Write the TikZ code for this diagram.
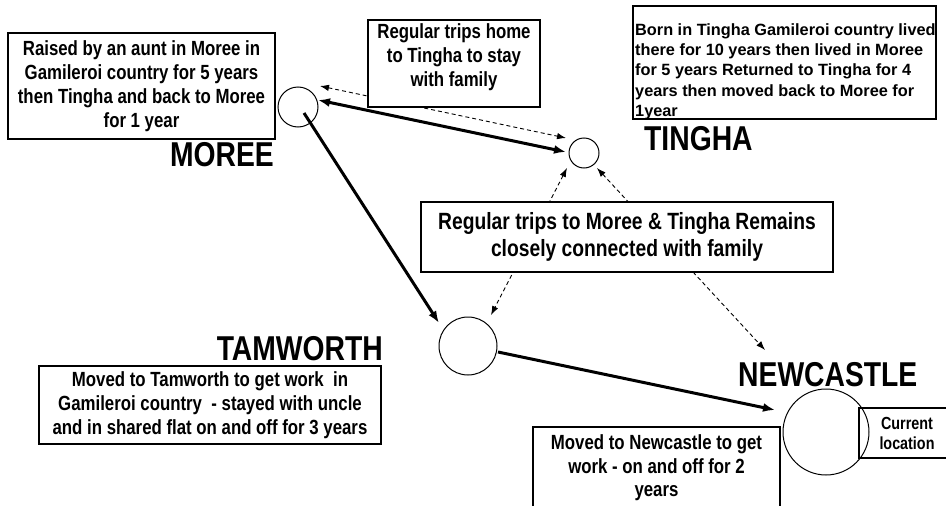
\documentclass[tikz,border=0pt]{standalone}
\usepackage{fontspec}
\setmainfont{Liberation Sans}[FakeStretch=0.82]
\newfontfamily\widefont{Liberation Sans}
\usetikzlibrary{arrows.meta,calc}
\begin{document}
\begin{tikzpicture}[x=1pt,y=-1pt,
  box/.style={draw=black, line width=1.1pt, fill=white, rectangle, inner sep=0pt},
  txt/.style={align=center, font=\bfseries\fontsize{20.5}{24}\selectfont, inner sep=0pt},
  city/.style={font=\bfseries\fontsize{34.5}{40}\selectfont, inner sep=0pt},
  place/.style={circle, draw=black, line width=1pt, inner sep=0pt, fill=white},
  solidarrow/.style={line width=3pt, -{Latex[length=12pt,width=9pt]}},
  dasharrow/.style={line width=0.9pt, dash pattern=on 4pt off 3pt,
    {Latex[length=9pt,width=6.5pt]}-{Latex[length=9pt,width=6.5pt]}},
]
\clip (0,0) rectangle (946,506);
\fill[white] (0,0) rectangle (946,506);

% places
\node[place, minimum size=40pt] (moree) at (298,107) {};
\node[place, minimum size=30pt] (tingha) at (584,153) {};
\node[place, minimum size=58pt] (tamworth) at (468,346) {};
\node[place, minimum size=86pt] (newcastle) at (826,432) {};

% city labels
\node[city, anchor=east] (moreelab) at (274,155) {MOREE};
\node[city, anchor=west] (tinghalab) at (644,139) {TINGHA};
\node[city, anchor=east] (tamworthlab) at (383,349) {TAMWORTH};
\node[city, anchor=west] (newcastlelab) at (738,375) {NEWCASTLE};

% dashed connections
\draw[dasharrow] ($(moree)+(22,-21)$) -- ($(tingha)+(-18,-15)$);
\draw[dasharrow] ($(tingha)+(-17,15)$) -- ($(tamworth)+(23,-31)$);
\draw[dasharrow] ($(tingha)+(13,15)$) -- ($(newcastle)+(-61,-82)$);

% boxes
\node[box, txt, minimum width=267pt, minimum height=106pt] (moreebox) at (141.5,86)
  {Raised by an aunt in Moree in\\Gamileroi country for 5 years\\then Tingha and back to Moree\\for 1 year};

\node[box, minimum width=172pt, minimum height=87pt] (tripbox) at (454,63.5) {};
\node[txt] (triptext) at (454,57) {Regular trips home\\to Tingha to stay\\with family};

\node[box, minimum width=303pt, minimum height=113pt] (tinghabox) at (784.5,62.5) {};
\node[inner sep=0pt, anchor=west, align=left,
  font=\widefont\bfseries\fontsize{16.3}{20.3}\selectfont] (tinghatext) at (635,71.5)
  {Born in Tingha Gamileroi country lived\\there for 10 years then lived in Moree\\for 5 years Returned to Tingha for 4\\years then moved back to Moree for\\1year};

\node[box, txt, font=\bfseries\fontsize{23.5}{27}\selectfont,
  minimum width=412pt, minimum height=70pt] (familybox) at (627,237)
  {Regular trips to Moree \& Tingha Remains\\closely connected with family};

\node[box, txt, minimum width=342pt, minimum height=78pt] (tamworthbox) at (210,405)
  {Moved to Tamworth to get work~ in\\Gamileroi country~ - stayed with uncle\\and in shared flat on and off for 3 years};

\node[box, minimum width=247pt, minimum height=93pt] (newcastlebox) at (656.5,473.5) {};
\node[txt, font=\bfseries\fontsize{20.5}{23.5}\selectfont] (newcastletext) at (656.5,468)
  {Moved to Newcastle to get\\work - on and off for 2\\years};

\node[box, fill=none, txt, font=\bfseries\fontsize{17.5}{20}\selectfont,
  minimum width=96pt, minimum height=50pt] (currentbox) at (907,433)
  {Current\\location};

% solid journeys
\draw[solidarrow, {Latex[length=12pt,width=9pt]}-{Latex[length=12pt,width=9pt]}]
  ($(moree)+(20,-7)$) -- ($(tingha)+(-18,-1)$);
\draw[solidarrow] ($(moree)+(6,6)$) -- ($(tamworth)+(-29,-23)$);
\draw[solidarrow] ($(tamworth)+(30,6)$) -- ($(newcastle)+(-51,-22)$);
\end{tikzpicture}
\end{document}
